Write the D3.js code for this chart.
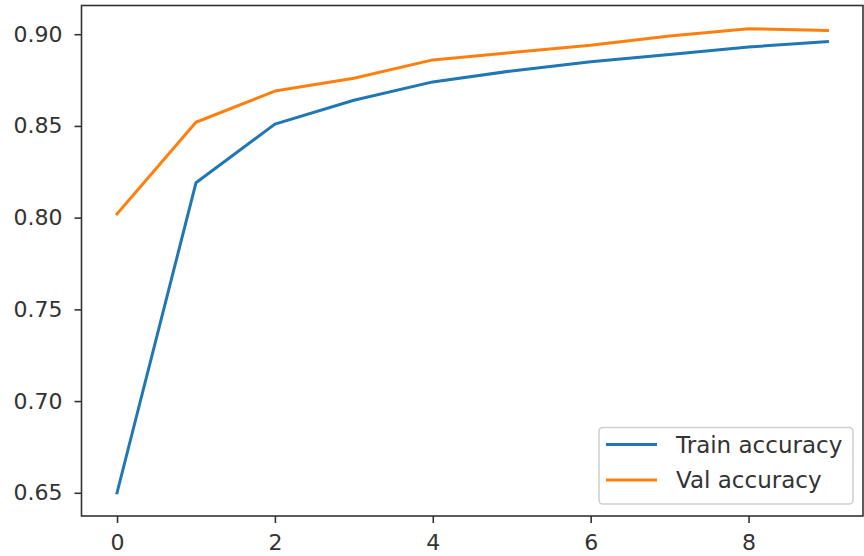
<!DOCTYPE html>
<html><head><meta charset="utf-8">
<script src="https://cdn.jsdelivr.net/npm/d3@7"></script>
<style>body{margin:0;background:#fff}svg{display:block}</style>
</head><body>
<script>
const epochs = [0,1,2,3,4,5,6,7,8,9];
const trainAcc = [0.650,0.819,0.851,0.864,0.874,0.880,0.885,0.889,0.893,0.896];
const valAcc   = [0.802,0.852,0.869,0.876,0.886,0.890,0.894,0.899,0.903,0.902];
const xTicks = [0,2,4,6,8];
const yTicks = [0.65,0.70,0.75,0.80,0.85,0.90];
const seriesNames = ["Train accuracy","Val accuracy"];
const colors = ["#1f77b4","#ff7f0e"];

const W=864,H=556;
const L=81.5,R=863,T=5.5,B=516;
const svg=d3.select("body").append("svg").attr("width",W).attr("height",H);
const all=trainAcc.concat(valAcc);
const ymin=d3.min(all), ymax=d3.max(all), yp=(ymax-ymin)*0.05;
const x=d3.scaleLinear().domain([-0.45,9.45]).range([L,R]);
const y=d3.scaleLinear().domain([ymin-yp,ymax+yp]).range([B,T]);
const font="DejaVu Sans, sans-serif";
const fs="22px", tc="#333";

const line=d3.line().x((d,i)=>x(epochs[i])).y(d=>y(d));
[trainAcc,valAcc].forEach((s,k)=>{
  svg.append("path").datum(s).attr("d",line).attr("fill","none")
    .attr("stroke",colors[k]).attr("stroke-width",3).attr("stroke-linejoin","round").attr("stroke-linecap","square");
});

const xa=svg.append("g").attr("transform",`translate(0,${B})`)
  .call(d3.axisBottom(x).tickValues(xTicks).tickFormat(d3.format("d")).tickSize(7).tickPadding(11));
const ya=svg.append("g").attr("transform",`translate(${L},0)`)
  .call(d3.axisLeft(y).tickValues(yTicks).tickFormat(d3.format(".2f")).tickSize(7).tickPadding(12));
[xa,ya].forEach(a=>{
  a.select(".domain").remove();
  a.selectAll(".tick line").attr("stroke","#333").attr("stroke-width",1.6);
  a.selectAll(".tick text").attr("fill",tc).style("font-family",font).style("font-size",fs);
});
svg.append("rect").attr("x",L).attr("y",T).attr("width",R-L).attr("height",B-T)
  .attr("fill","none").attr("stroke","#333").attr("stroke-width",1.6);

const lg=svg.append("g");
lg.append("rect").attr("x",599).attr("y",427.5).attr("width",254).attr("height",76.5)
  .attr("rx",4).attr("fill","#fff").attr("fill-opacity",0.8).attr("stroke","#d0d0d0").attr("stroke-width",1.6);
seriesNames.forEach((n,k)=>{
  const yy=444.5+k*35.5;
  lg.append("line").attr("x1",606).attr("x2",657).attr("y1",yy).attr("y2",yy)
    .attr("stroke",colors[k]).attr("stroke-width",3);
  lg.append("text").attr("x",676).attr("y",yy).attr("dy","0.36em").text(n)
    .attr("fill",tc).style("font-family",font).style("font-size","23px");
});
</script>
</body></html>
